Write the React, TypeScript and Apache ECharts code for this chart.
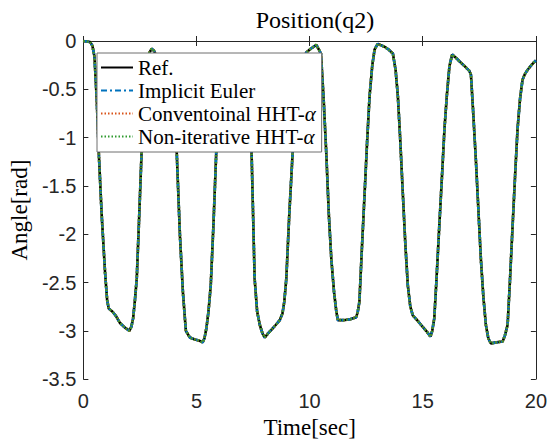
import React, { useEffect, useRef } from "react";
import * as echarts from "echarts";

// Time samples [sec]
const timeSec = [
  0, 0.3, 0.4, 0.49, 0.59, 0.69, 0.81, 0.96, 1.05, 1.12, 1.28, 1.45, 1.62, 1.85, 2.03, 2.12, 2.2, 2.28, 2.36, 2.47, 2.58, 2.68, 2.8, 2.92, 3.02, 3.12,
  3.3, 3.6, 3.85, 4.0, 4.12, 4.2, 4.27, 4.4, 4.53, 4.71, 4.93, 5.1, 5.27, 5.35, 5.44, 5.53, 5.63, 5.75, 5.88, 6.0, 6.15, 6.35, 6.6, 6.9, 7.1, 7.25, 7.43,
  7.57, 7.68, 7.8, 7.92, 8.02, 8.15, 8.31, 8.5, 8.68, 8.8, 8.88, 8.97, 9.1, 9.26, 9.4, 9.55, 9.7, 9.85, 10.05, 10.3, 10.5, 10.62, 10.74, 10.85, 10.96,
  11.08, 11.18, 11.25, 11.5, 11.8, 12.06, 12.13, 12.2, 12.3, 12.43, 12.55, 12.65, 12.77, 12.87, 13.01, 13.31, 13.5, 13.68, 13.8, 13.9, 14.0, 14.12,
  14.23, 14.34, 14.45, 14.56, 14.75, 14.93, 15.15, 15.34, 15.42, 15.51, 15.6, 15.73, 15.85, 15.96, 16.07, 16.18, 16.3, 16.45, 16.62, 16.85, 17.06,
  17.13, 17.22, 17.35, 17.46, 17.57, 17.68, 17.79, 17.9, 18.01, 18.25, 18.53, 18.63, 18.75, 18.85, 18.97, 19.08, 19.19, 19.3, 19.41, 19.52, 19.63,
  19.8, 20,
];

// Reference angle q2 [rad]
const refAngle = [
  0, -0.01, -0.05, -0.16, -0.6, -1.2, -1.8, -2.4, -2.68, -2.77, -2.8, -2.85, -2.92, -2.97, -3.0, -2.96, -2.87, -2.68, -2.46, -1.8, -1.11, -0.6, -0.28, -0.12, -0.08, -0.1,
  -0.2, -0.32, -0.55, -0.8, -1.11, -1.6, -2.02, -2.6, -3.0, -3.07, -3.09, -3.1, -3.12, -3.08, -2.97, -2.8, -2.53, -1.9, -1.11, -0.65, -0.35, -0.24, -0.22, -0.26, -0.38, -0.65, -1.11,
  -2.46, -2.8, -2.94, -3.03, -3.07, -3.03, -2.99, -2.94, -2.89, -2.82, -2.7, -2.46, -1.8, -1.11, -0.6, -0.3, -0.18, -0.12, -0.08, -0.04, -0.13, -0.6, -1.18, -1.8, -2.26,
  -2.6, -2.8, -2.89, -2.89, -2.88, -2.86, -2.8, -2.7, -2.2, -1.58, -1.0, -0.57, -0.25, -0.09, -0.03, -0.06, -0.09, -0.13, -0.3, -0.57, -1.0, -1.58,
  -2.1, -2.53, -2.75, -2.84, -2.89, -2.94, -3.0, -3.06, -3.0, -2.87, -2.5, -1.92, -1.4, -0.91, -0.55, -0.26, -0.14, -0.17, -0.21, -0.26, -0.31,
  -0.35, -0.7, -1.24, -1.75, -2.26, -2.65, -2.94, -3.08, -3.13, -3.12, -3.11, -3.05, -2.94, -2.5, -1.92, -1.4, -0.91, -0.6, -0.4, -0.34, -0.3,
  -0.25, -0.2,
];

// The three integrators overlap the reference within drawing precision
const implicitEuler = refAngle;
const conventionalHHT = refAngle;
const nonIterativeHHT = refAngle;

const seriesNames = ["Ref.", "Implicit Euler", "Conventoinal HHT-α", "Non-iterative HHT-α"];
const xTicks = [0, 5, 10, 15, 20];
const yTicks = [-3.5, -3, -2.5, -2, -1.5, -1, -0.5, 0];

const pairs = (ys: number[]) => timeSec.map((t, i) => [t, ys[i]]);

const AXIS_COLOR = "#262626";

export default function App() {
  const ref = useRef<HTMLDivElement>(null);
  useEffect(() => {
    if (!ref.current) return;
    const chart = echarts.init(ref.current, undefined, { renderer: "svg" });
    const baseX = {
      type: "value" as const,
      min: xTicks[0],
      max: xTicks[xTicks.length - 1],
      interval: 5,
      splitLine: { show: false },
      axisLine: { show: true, lineStyle: { color: AXIS_COLOR, width: 1 } },
      axisTick: { show: true, inside: true, length: 5, lineStyle: { color: AXIS_COLOR } },
    };
    const baseY = {
      type: "value" as const,
      min: yTicks[0],
      max: yTicks[yTicks.length - 1],
      interval: 0.5,
      splitLine: { show: false },
      axisLine: { show: true, onZero: false, lineStyle: { color: AXIS_COLOR, width: 1 } },
      axisTick: { show: true, inside: true, length: 5, lineStyle: { color: AXIS_COLOR } },
    };
    const lineSeries = (name: string, ys: number[], color: string, type: any, width: number) => ({
      name,
      type: "line",
      data: pairs(ys),
      showSymbol: false,
      symbol: "none",
      smooth: false,
      lineStyle: { color, width, type },
      itemStyle: { color },
    });
    chart.setOption({
      animation: false,
      backgroundColor: "#ffffff",
      title: {
        text: "Position(q2)",
        left: 310,
        textAlign: "center",
        top: 3,
        textStyle: { fontFamily: "Liberation Serif", fontSize: 24, fontWeight: "normal", color: "#000" },
      },
      grid: { left: 83, right: 13, top: 41, bottom: 59, containLabel: false },
      legend: {
        z: 20,
        orient: "vertical",
        left: 97,
        top: 53,
        itemWidth: 32,
        itemHeight: 14,
        itemGap: 2,
        padding: [4, 6, 5, 3],
        backgroundColor: "#ffffff",
        borderColor: "#6e6e6e",
        borderWidth: 1,
        borderRadius: 0,
        itemStyle: { opacity: 0 },
        data: seriesNames,
        formatter: (n: string) => n.replace("α", "{i|α}"),
        textStyle: {
          fontFamily: "Liberation Serif",
          fontSize: 21,
          color: "#000",
          rich: { i: { fontStyle: "italic", fontFamily: "Liberation Serif", fontSize: 21, color: "#000" } },
        },
      },
      xAxis: [
        {
          ...baseX,
          position: "bottom",
          name: "Time[sec]",
          nameLocation: "middle",
          nameGap: 36,
          nameTextStyle: { fontFamily: "Liberation Serif", fontSize: 23, color: "#000" },
          axisLabel: { show: true, fontFamily: "Liberation Sans", fontSize: 20, color: AXIS_COLOR, margin: 12 },
        },
        { ...baseX, position: "top", axisLabel: { show: false } },
      ],
      yAxis: [
        {
          ...baseY,
          position: "left",
          name: "Angle[rad]",
          nameLocation: "middle",
          nameGap: 45,
          nameTextStyle: { fontFamily: "Liberation Serif", fontSize: 23, color: "#000" },
          axisLabel: { show: true, fontFamily: "Liberation Sans", fontSize: 20, color: AXIS_COLOR, margin: 7 },
        },
        { ...baseY, position: "right", axisLabel: { show: false } },
      ],
      series: [
        lineSeries(seriesNames[0], refAngle, "#000000", "solid", 2.6),
        lineSeries(seriesNames[1], implicitEuler, "#0072BD", [6, 3, 2, 3], 2.6),
        lineSeries(seriesNames[2], conventionalHHT, "#D95319", [1.5, 2], 2.6),
        lineSeries(seriesNames[3], nonIterativeHHT, "#2E9A2E", [1.5, 2], 2.6),
      ],
    });
    return () => chart.dispose();
  }, []);
  return <div ref={ref} style={{ position: "fixed", left: 0, top: 0, width: 550, height: 444 }} />;
}
